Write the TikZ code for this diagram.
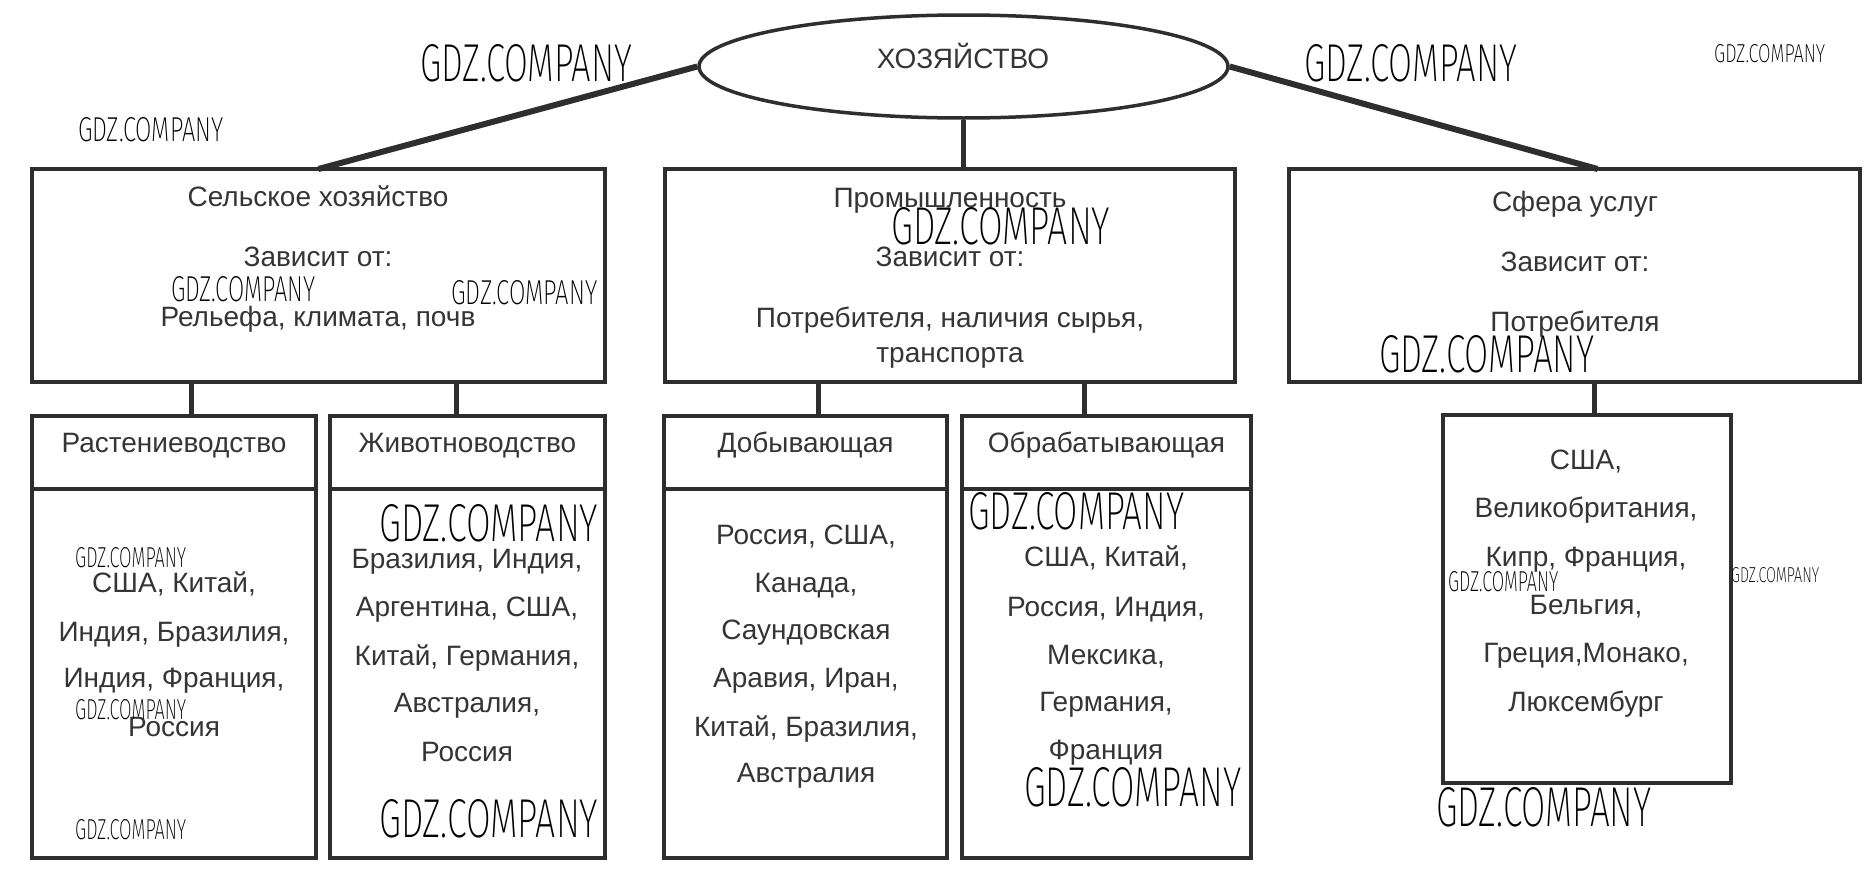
\documentclass[tikz,border=0pt]{standalone}
\usepackage{fontspec}
\setmainfont{Liberation Sans}
\newfontfamily\wmfont{Fira Sans}[UprightFont={* ExtraLight}]
\usepackage{graphicx}
\usetikzlibrary{shapes.geometric}
\definecolor{ink}{HTML}{2E2E2E}
\definecolor{txt}{HTML}{353535}
\newcommand{\wmk}[2]{\resizebox{#1pt}{#2pt}{\wmfont GDZ.COMPANY}}
\begin{document}
\begin{tikzpicture}[x=1pt,y=-1pt]
\tikzset{
  box/.style={draw=ink, line width=4.5pt, inner sep=0pt, outer sep=0pt},
  conn/.style={draw=ink, line width=6pt},
  stem/.style={draw=ink, line width=5pt},
  lbl/.style={font=\fontsize{28}{32}\selectfont, text=txt, anchor=base, inner sep=0pt},
  wm/.style={anchor=south west, inner sep=0pt, text=black}
}
\useasboundingbox[fill=white] (0,0) rectangle (1875,886);

% top ellipse
\node[ellipse, draw=ink, line width=3.5pt, minimum width=529, minimum height=103, inner sep=0pt] (ell) at (963.5,66.5) {};
\node[lbl] (ellT) at (963,68) {ХОЗЯЙСТВО};

% main boxes
\node[box, minimum width=573, minimum height=213] (sel) at (318.5,275.5) {};
\node[box, minimum width=570, minimum height=213] (mid) at (950,275.5) {};
\node[box, minimum width=571, minimum height=213] (srv) at (1574.5,275.5) {};

% sub boxes: headers
\node[box, minimum width=284, minimum height=73] (rastH) at (174,452.5) {};
\node[box, minimum width=275, minimum height=73] (zhivH) at (467.5,452.5) {};
\node[box, minimum width=283, minimum height=73] (dobH) at (805.5,452.5) {};
\node[box, minimum width=289, minimum height=73] (obrH) at (1106.5,452.5) {};
% sub boxes: bodies
\node[box, minimum width=284, minimum height=369] (rastB) at (174,673.5) {};
\node[box, minimum width=275, minimum height=369] (zhivB) at (467.5,673.5) {};
\node[box, minimum width=283, minimum height=369] (dobB) at (805.5,673.5) {};
\node[box, minimum width=289, minimum height=369] (obrB) at (1106.5,673.5) {};
% services list box
\node[box, minimum width=288, minimum height=368] (srvL) at (1587,599) {};

% connectors
\draw[conn] (ell.west) -- (sel.north);
\draw[conn] (ell.east) -- ([xshift=23]srv.north);
\draw[stem] (ell.south) -- (ell.south |- mid.north);
\draw[stem] ([xshift=17.5]rastH.north) -- ([xshift=17.5]rastH.north |- sel.south);
\draw[stem] ([xshift=-11.5]zhivH.north) -- ([xshift=-11.5]zhivH.north |- sel.south);
\draw[stem] ([xshift=12.5]dobH.north) -- ([xshift=12.5]dobH.north |- mid.south);
\draw[stem] ([xshift=-22.5]obrH.north) -- ([xshift=-22.5]obrH.north |- mid.south);
\draw[stem] ([xshift=7]srvL.north) -- ([xshift=7]srvL.north |- srv.south);

% main box texts
\node[lbl] (selT1) at (318,206) {Сельское хозяйство};
\node[lbl] (selT2) at (318,266) {Зависит от:};
\node[lbl] (selT3) at (318,326) {Рельефа, климата, почв};
\node[lbl] (midT1) at (950,207) {Промышленность};
\node[lbl] (midT2) at (950,266) {Зависит от:};
\node[lbl] (midT3) at (950,327) {Потребителя, наличия сырья,};
\node[lbl] (midT4) at (950,362) {транспорта};
\node[lbl] (srvT1) at (1575,211) {Сфера услуг};
\node[lbl] (srvT2) at (1575,271) {Зависит от:};
\node[lbl] (srvT3) at (1575,331) {Потребителя};

% headers
\node[lbl] (rastT) at (174,452) {Растениеводство};
\node[lbl] (zhivT) at (467.5,452) {Животноводство};
\node[lbl] (dobT) at (805.5,452) {Добывающая};
\node[lbl] (obrT) at (1106.5,452) {Обрабатывающая};

% lists
\foreach \t/\yy [count=\i] in {{США, Китай,}/592,{Индия, Бразилия,}/641,{Индия, Франция,}/687,{Россия}/736}
  \node[lbl] (rast\i) at (174,\yy) {\t};
\foreach \t/\yy [count=\i] in {{Бразилия, Индия,}/568,{Аргентина, США,}/616,{Китай, Германия,}/665,{Австралия,}/712,{Россия}/761}
  \node[lbl] (zhiv\i) at (467,\yy) {\t};
\foreach \t/\yy [count=\i] in {{Россия, США,}/544,{Канада,}/592,{Саундовская}/639,{Аравия, Иран,}/687,{Китай, Бразилия,}/736,{Австралия}/782}
  \node[lbl] (dob\i) at (806,\yy) {\t};
\foreach \t/\yy [count=\i] in {{США, Китай,}/566,{Россия, Индия,}/616,{Мексика,}/664,{Германия,}/711,{Франция}/759}
  \node[lbl] (obr\i) at (1106,\yy) {\t};
\foreach \t/\yy [count=\i] in {{США,}/469,{Великобритания,}/517,{Кипр, Франция,}/566,{Бельгия,}/614,{Греция,Монако,}/662,{Люксембург}/711}
  \node[lbl] (srvl\i) at (1586,\yy) {\t};

% watermarks
\node[wm] (wmA) at (420,82) {\wmk{212}{37}};
\node[wm] (wmB) at (78,142) {\wmk{145}{24}};
\node[wm] (wmC) at (1304,82) {\wmk{213}{37}};
\node[wm] (wmD) at (1714,63) {\wmk{111}{18}};
\node[wm] (wmE) at (171,302) {\wmk{144}{25}};
\node[wm] (wmF) at (451,305) {\wmk{146}{24}};
\node[wm] (wmG) at (891,245) {\wmk{219}{37}};
\node[wm] (wmH) at (1379,373) {\wmk{215}{37}};
\node[wm] (wmI) at (75,568) {\wmk{111}{20}};
\node[wm] (wmJ) at (75,720) {\wmk{111}{20}};
\node[wm] (wmK) at (75,840) {\wmk{111}{20}};
\node[wm] (wmL) at (379,542) {\wmk{219}{37}};
\node[wm] (wmM) at (379,838) {\wmk{219}{38}};
\node[wm] (wmN) at (968,530) {\wmk{216}{37}};
\node[wm] (wmO) at (1024,807) {\wmk{217}{39}};
\node[wm] (wmP) at (1448,592) {\wmk{110}{20}};
\node[wm] (wmQ) at (1731,583) {\wmk{88}{15}};
\node[wm] (wmR) at (1436,827) {\wmk{215}{39}};
\end{tikzpicture}
\end{document}
